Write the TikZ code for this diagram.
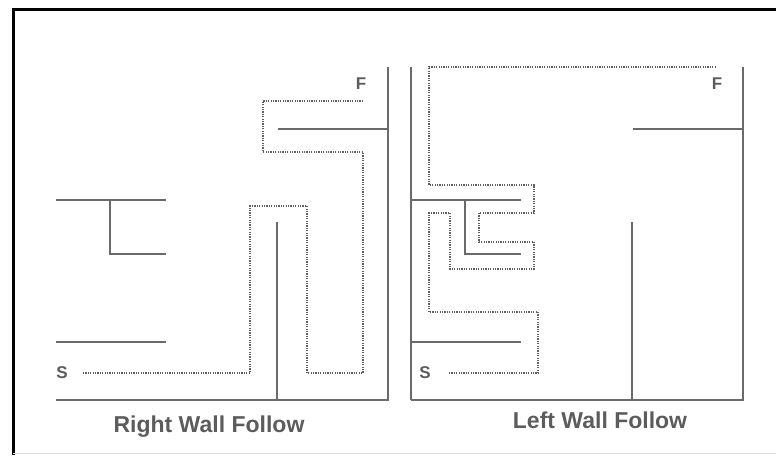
\documentclass[tikz,border=0pt]{standalone}
\usepackage{fontspec}
\setmainfont{Liberation Sans}
\definecolor{wallgray}{HTML}{6A6A6A}
\definecolor{trailgray}{HTML}{606060}
\definecolor{textgray}{HTML}{5C5C5C}
\tikzset{
    wall/.style={draw=wallgray, line width=2.6pt},
    trail/.style={draw=trailgray, line width=1.6pt, dash pattern=on 1.2pt off 1.2pt},
    tag/.style={font=\bfseries\fontsize{17}{17}\selectfont, text=textgray, inner sep=0pt},
    caption/.style={font=\bfseries\fontsize{23}{23}\selectfont, text=textgray, inner sep=0pt}
}
\begin{document}
\begin{tikzpicture}[x=1pt,y=-1pt]
    \useasboundingbox (0,0) rectangle (776,455);
    \draw[line width=3pt] (776,9) -- (13,9) -- (13,455);
    \draw[black!15] (13,453) -- (776,453);
    % the same maze twice
    \foreach \ox in {56,411}
    {
        \draw[wall] (\ox,200) -- (\ox+110,200);
        \draw[wall] (\ox+54,200) -- (\ox+54,254) -- (\ox+110,254);
        \draw[wall] (\ox,342) -- (\ox+110,342);
        \draw[wall] (\ox,400) -- (\ox+332,400) -- (\ox+332,67);
        \draw[wall] (\ox+221,400) -- (\ox+221,222);
        \draw[wall] (\ox+222,129) -- (\ox+332,129);
    }
    \draw[wall] (411,67) -- (411,400);
    % right wall follow
    \draw[trail] (83,373) -| (250,206) -| (307,373) -| (363,152) -| (263,101) -- (362,101);
    % left wall follow
    \draw[trail] (449,373) -| (538,312) -| (429,213) -| (450,269) -| (534,242)
        -| (479,213) -| (534,185) -| (429,67) -- (715,67);
    \node[tag] (startL) at (62,373) {S};
    \node[tag] (finishL) at (361,84) {F};
    \node[tag] (startR) at (425,373) {S};
    \node[tag] (finishR) at (717,84) {F};
    \node[caption] (rightfollow) at (209,427) {Right Wall Follow};
    \node[caption] (leftfollow) at (600,420) {Left Wall Follow};
\end{tikzpicture}
\end{document}
